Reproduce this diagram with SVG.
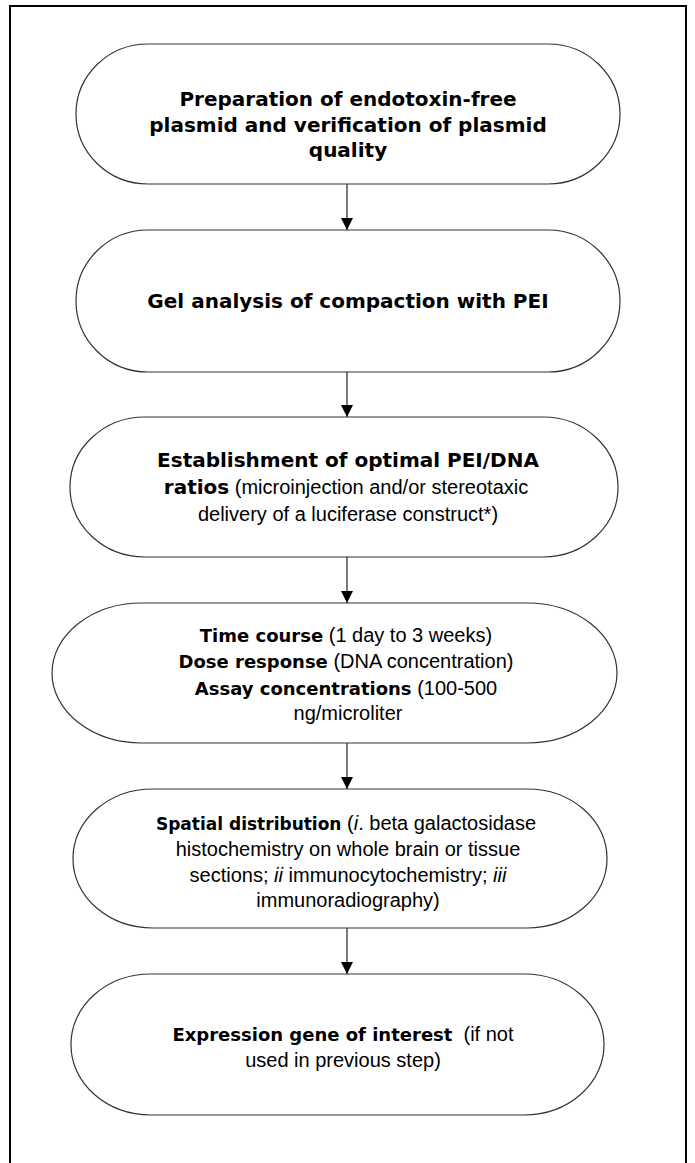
<svg xmlns="http://www.w3.org/2000/svg" width="695" height="1163" viewBox="0 0 695 1163">
<style>
.node{fill:#fff;stroke:#333;stroke-width:1.2}
.b{font-family:"DejaVu Sans",sans-serif;font-weight:bold}
.s{font-size:18px}
.t{font-size:17px}
.r{font-family:"Liberation Sans",Arial,sans-serif;font-weight:normal}
.i{font-family:"Liberation Sans",Arial,sans-serif;font-style:italic}
text{font-size:20px;fill:#000;text-anchor:middle}
.edge{stroke:#222;stroke-width:1.2;fill:none}
</style>
<defs>
<marker id="ah" markerUnits="userSpaceOnUse" markerWidth="12" markerHeight="12" refX="12" refY="6" orient="auto">
<path d="M0,0 L12,6 L0,12 z" fill="#000"/>
</marker>
</defs>
<rect width="695" height="1163" fill="#fff"/>
<path d="M10,1163 V6 H686 V1163" fill="none" stroke="#000" stroke-width="2"/>
<g id="connectors">
<line class="edge" x1="347" y1="184" x2="347" y2="230" marker-end="url(#ah)"/>
<line class="edge" x1="347" y1="372" x2="347" y2="417" marker-end="url(#ah)"/>
<line class="edge" x1="347" y1="557" x2="347" y2="603" marker-end="url(#ah)"/>
<line class="edge" x1="347" y1="743" x2="347" y2="789" marker-end="url(#ah)"/>
<line class="edge" x1="347" y1="928" x2="347" y2="974" marker-end="url(#ah)"/>
</g>
<g id="n1">
<rect class="node" x="76" y="44" width="544" height="140" rx="72" ry="70"/>
<text x="348" y="106" class="b">Preparation of endotoxin-free</text>
<text x="348" y="132" class="b">plasmid and verification of plasmid</text>
<text x="348" y="157" class="b">quality</text>
</g>
<g id="n2">
<rect class="node" x="76" y="230" width="544" height="142" rx="72" ry="71"/>
<text x="348" y="308" class="b">Gel analysis of compaction with PEI</text>
</g>
<g id="n3">
<rect class="node" x="70" y="417" width="548" height="140" rx="75" ry="70"/>
<text x="348" y="467" class="b">Establishment of optimal PEI/DNA</text>
<text x="346" y="494"><tspan class="b">ratios</tspan><tspan class="r"> (microinjection and/or stereotaxic</tspan></text>
<text x="348" y="521" class="r">delivery of a luciferase construct*)</text>
</g>
<g id="n4">
<rect class="node" x="52" y="603" width="565" height="140" rx="90" ry="70"/>
<text x="346" y="642"><tspan class="b s">Time course</tspan><tspan class="r"> (1 day to 3 weeks)</tspan></text>
<text x="346" y="668"><tspan class="b s">Dose response</tspan><tspan class="r"> (DNA concentration)</tspan></text>
<text x="346" y="695"><tspan class="b s">Assay concentrations</tspan><tspan class="r"> (100-500</tspan></text>
<text x="348" y="720" class="r">ng/microliter</text>
</g>
<g id="n5">
<rect class="node" x="73" y="789" width="534" height="139" rx="80" ry="69"/>
<text x="346" y="830"><tspan class="b t">Spatial distribution</tspan><tspan class="r"> (</tspan><tspan class="i">i</tspan><tspan class="r">. beta galactosidase</tspan></text>
<text x="348" y="856" class="r">histochemistry on whole brain or tissue</text>
<text x="348" y="882"><tspan class="r">sections; </tspan><tspan class="i">ii</tspan><tspan class="r"> immunocytochemistry; </tspan><tspan class="i">iii</tspan></text>
<text x="348" y="907" class="r">immunoradiography)</text>
</g>
<g id="n6">
<rect class="node" x="71" y="974" width="533" height="141" rx="80" ry="70"/>
<text x="343" y="1041"><tspan class="b s">Expression gene of interest</tspan><tspan class="r">&#160; (if not</tspan></text>
<text x="343" y="1067" class="r">used in previous step)</text>
</g>
</svg>
